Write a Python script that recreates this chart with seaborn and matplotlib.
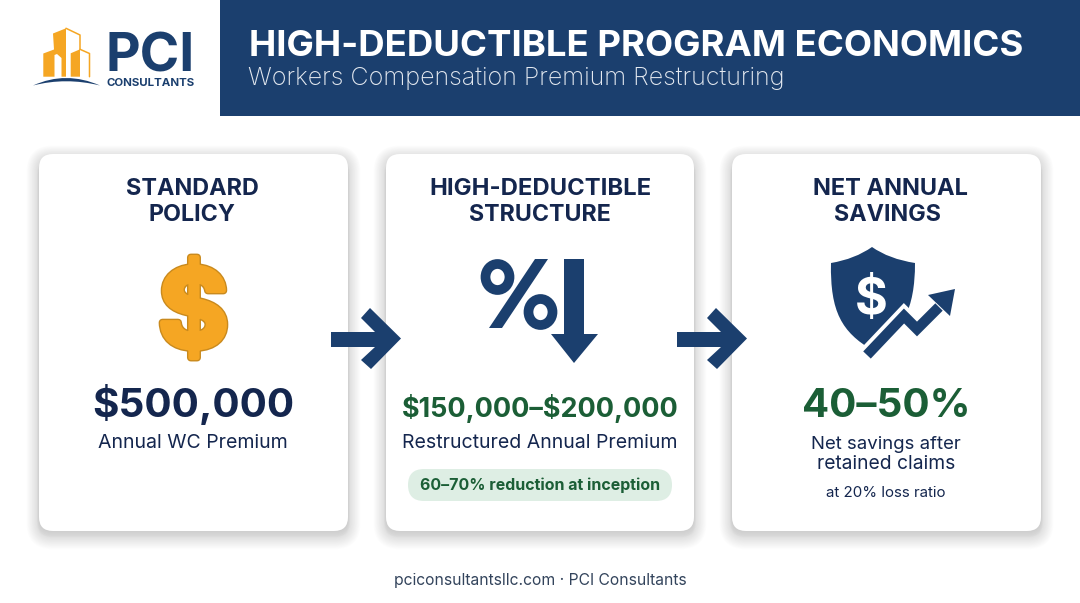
import matplotlib
matplotlib.use('Agg')
import matplotlib.pyplot as plt
import seaborn as sns
from matplotlib.patches import FancyBboxPatch, Polygon, PathPatch, Rectangle, Ellipse
from matplotlib.path import Path
import matplotlib.patheffects as pe

# Text content
header_title = 'HIGH-DEDUCTIBLE PROGRAM ECONOMICS'
header_sub = 'Workers Compensation Premium Restructuring'
card_titles = [['STANDARD', 'POLICY'], ['HIGH-DEDUCTIBLE', 'STRUCTURE'], ['NET ANNUAL', 'SAVINGS']]
card_values = ['$500,000', '$150,000–$200,000', '40–50%']
card_labels = ['Annual WC Premium', 'Restructured Annual Premium', 'Net savings after', 'retained claims']
pill_text = '60–70% reduction at inception'
small_note = 'at 20% loss ratio'
footer = 'pciconsultantsllc.com · PCI Consultants'

NAVY = '#1b3f6e'
INK = '#14264e'
GREEN = '#1b5e36'
GOLD = '#f5a623'
GOLD_EDGE = '#c98a1e'

sns.set_theme(style='white')
plt.rcParams['font.family'] = ['Inter', 'DejaVu Sans']

fig = plt.figure(figsize=(10.8, 6.03), dpi=100, facecolor='white')
ax = fig.add_axes([0, 0, 1, 1])
ax.set_xlim(0, 1080)
ax.set_ylim(603, 0)
ax.axis('off')
sns.despine(ax=ax, left=True, bottom=True)
renderer = fig.canvas.get_renderer()


# puts a text and scales the font so it has the wanted pixel width
def fit_text(x0, x1, base, s, color, weight='normal', size=20, **kw):
    t = ax.text((x0 + x1) / 2, base, s, color=color, weight=weight, fontsize=size,
                ha='center', va='baseline', parse_math=False, **kw)
    w = t.get_window_extent(renderer).width
    t.set_fontsize(size * (x1 - x0) / w)
    return t


def round_box(x0, y0, x1, y1, r, **kw):
    p = FancyBboxPatch((x0 + r, y0 + r), x1 - x0 - 2 * r, y1 - y0 - 2 * r,
                       boxstyle='round,pad=%f,rounding_size=%f' % (r, r), **kw)
    ax.add_patch(p)
    return p


# header band
ax.add_patch(Rectangle((220, 0), 860, 115.5, color=NAVY, lw=0))
fit_text(248, 1025, 56, header_title, 'white', weight='bold')
fit_text(248, 784, 85, header_sub, '#e4e9f0', weight='light')

# logo
ax.add_patch(Polygon([(43.3, 53.5), (54, 49.5), (53, 33.5), (66, 28.3), (66, 76.7), (61.5, 76.7), (61.5, 58),
                      (57, 54), (54.5, 55), (54.5, 76.7), (43.3, 76.7)], color=GOLD, lw=0))
ax.add_patch(Polygon([(70.7, 76.7), (70.7, 53.3), (80, 49.3), (80, 76.7)], color=GOLD, lw=0))
ax.plot([66, 80, 80], [28.3, 35, 49.3], color=GOLD, lw=1.1)
ax.plot([80, 89.5, 89.5], [49.3, 53.5, 76.7], color=GOLD, lw=1.1)
ax.add_patch(PathPatch(Path([(33, 85.5), (66, 70.5), (100, 85.5), (66, 77), (33, 85.5)],
                            [Path.MOVETO, Path.CURVE3, Path.CURVE3, Path.CURVE3, Path.CURVE3]),
                       color=NAVY, lw=0))
fit_text(106, 195, 71, 'PCI', NAVY, weight='bold', size=40)
fit_text(106, 195, 86, 'CONSULTANTS', NAVY, weight='bold', size=9)

# cards with soft shadow
for x0, x1 in [(39, 348), (386, 694), (732, 1041)]:
    for i in range(18, 0, -1):
        round_box(x0 - i * 0.7, 154 - i * 0.7 + 4, x1 + i * 0.7, 531 + i * 0.8 + 4, 14 + i * 0.7,
                  fc='#333333', ec='none', alpha=0.006)
    for i in range(6, 0, -1):
        round_box(x0 - i * 0.3, 160, x1 + i * 0.3, 531 + i, 14, fc='#333333', ec='none', alpha=0.012)
    round_box(x0, 154, x1, 531, 14, fc='white', ec='none')

# card titles
fit_text(126, 259, 195, card_titles[0][0], INK, weight='bold')
fit_text(149, 236, 221, card_titles[0][1], INK, weight='bold')
fit_text(429, 651, 195, card_titles[1][0], INK, weight='bold')
fit_text(469, 611, 221, card_titles[1][1], INK, weight='bold')
fit_text(812, 968, 195, card_titles[2][0], INK, weight='bold')
fit_text(834, 941, 221, card_titles[2][1], INK, weight='bold')

# dollar icon
fit_text(158, 229, 347, '$', GOLD, weight='bold', size=100,
         path_effects=[pe.Stroke(linewidth=5.5, foreground=GOLD_EDGE), pe.Stroke(linewidth=3.5, foreground=GOLD),
                       pe.Normal()])

# arrows between the cards
for dx in [0, 346]:
    pts = [(331, 332), (375, 332), (361, 318), (370, 308), (401, 338.5), (371, 369), (361, 360), (375, 347), (331, 347)]
    ax.add_patch(Polygon([(x + dx, y) for x, y in pts], color=NAVY, lw=0, zorder=5))

# percent and down arrow icon
ax.add_patch(Ellipse((497.5, 277), 24, 26, fc='none', ec=NAVY, lw=7))
ax.add_patch(Ellipse((540.5, 312), 24, 26, fc='none', ec=NAVY, lw=7))
ax.add_patch(Polygon([(535, 259), (548, 259), (502, 328), (489, 328)], color=NAVY, lw=0))
ax.add_patch(Polygon([(564, 259), (584, 259), (584, 334), (598, 334), (574, 363), (551, 334), (564, 334)],
                     color=NAVY, lw=0))

# shield icon
shield = Path([(872, 247), (855, 259), (831, 263), (830, 312), (842, 332), (872, 350),
               (902, 332), (915, 310), (915, 263), (889, 259), (872, 247)],
              [Path.MOVETO, Path.CURVE3, Path.CURVE3, Path.CURVE4, Path.CURVE4, Path.CURVE4,
               Path.CURVE4, Path.CURVE4, Path.CURVE4, Path.CURVE3, Path.CURVE3])
ax.add_patch(PathPatch(shield, fc=NAVY, ec='none'))
fit_text(855, 888, 314, '$', 'white', weight='bold', size=60)
zig_x = [867, 904, 917, 939]
zig_y = [355, 316, 329, 307]
ax.plot(zig_x, zig_y, color='white', lw=13, solid_joinstyle='miter', solid_capstyle='butt')
ax.add_patch(Polygon([(928, 295), (955, 289), (950, 316)], fc='white', ec='white', lw=3))
ax.plot(zig_x, zig_y, color=NAVY, lw=7.5, solid_joinstyle='miter', solid_capstyle='butt')
ax.add_patch(Polygon([(928, 295), (955, 289), (950, 316)], color=NAVY, lw=0))

# big values
fit_text(92, 294, 417, card_values[0], INK, weight='bold')
fit_text(402, 678, 417, card_values[1], GREEN, weight='bold')
fit_text(802, 970, 417, card_values[2], GREEN, weight='bold')

# labels
fit_text(98, 288, 448, card_labels[0], INK)
fit_text(402, 678, 448, card_labels[1], INK)
fit_text(811, 961, 449, card_labels[2], INK)
fit_text(817, 955, 469, card_labels[3], INK)
fit_text(826, 946, 497, small_note, INK)

# pill
round_box(408, 469, 672, 501, 16, fc='#deeee4', ec='none')
fit_text(420, 660, 490, pill_text, GREEN, weight='bold')

fit_text(394, 687, 585, footer, '#33445c')

fig.savefig('out.png', dpi=100, facecolor='white')
